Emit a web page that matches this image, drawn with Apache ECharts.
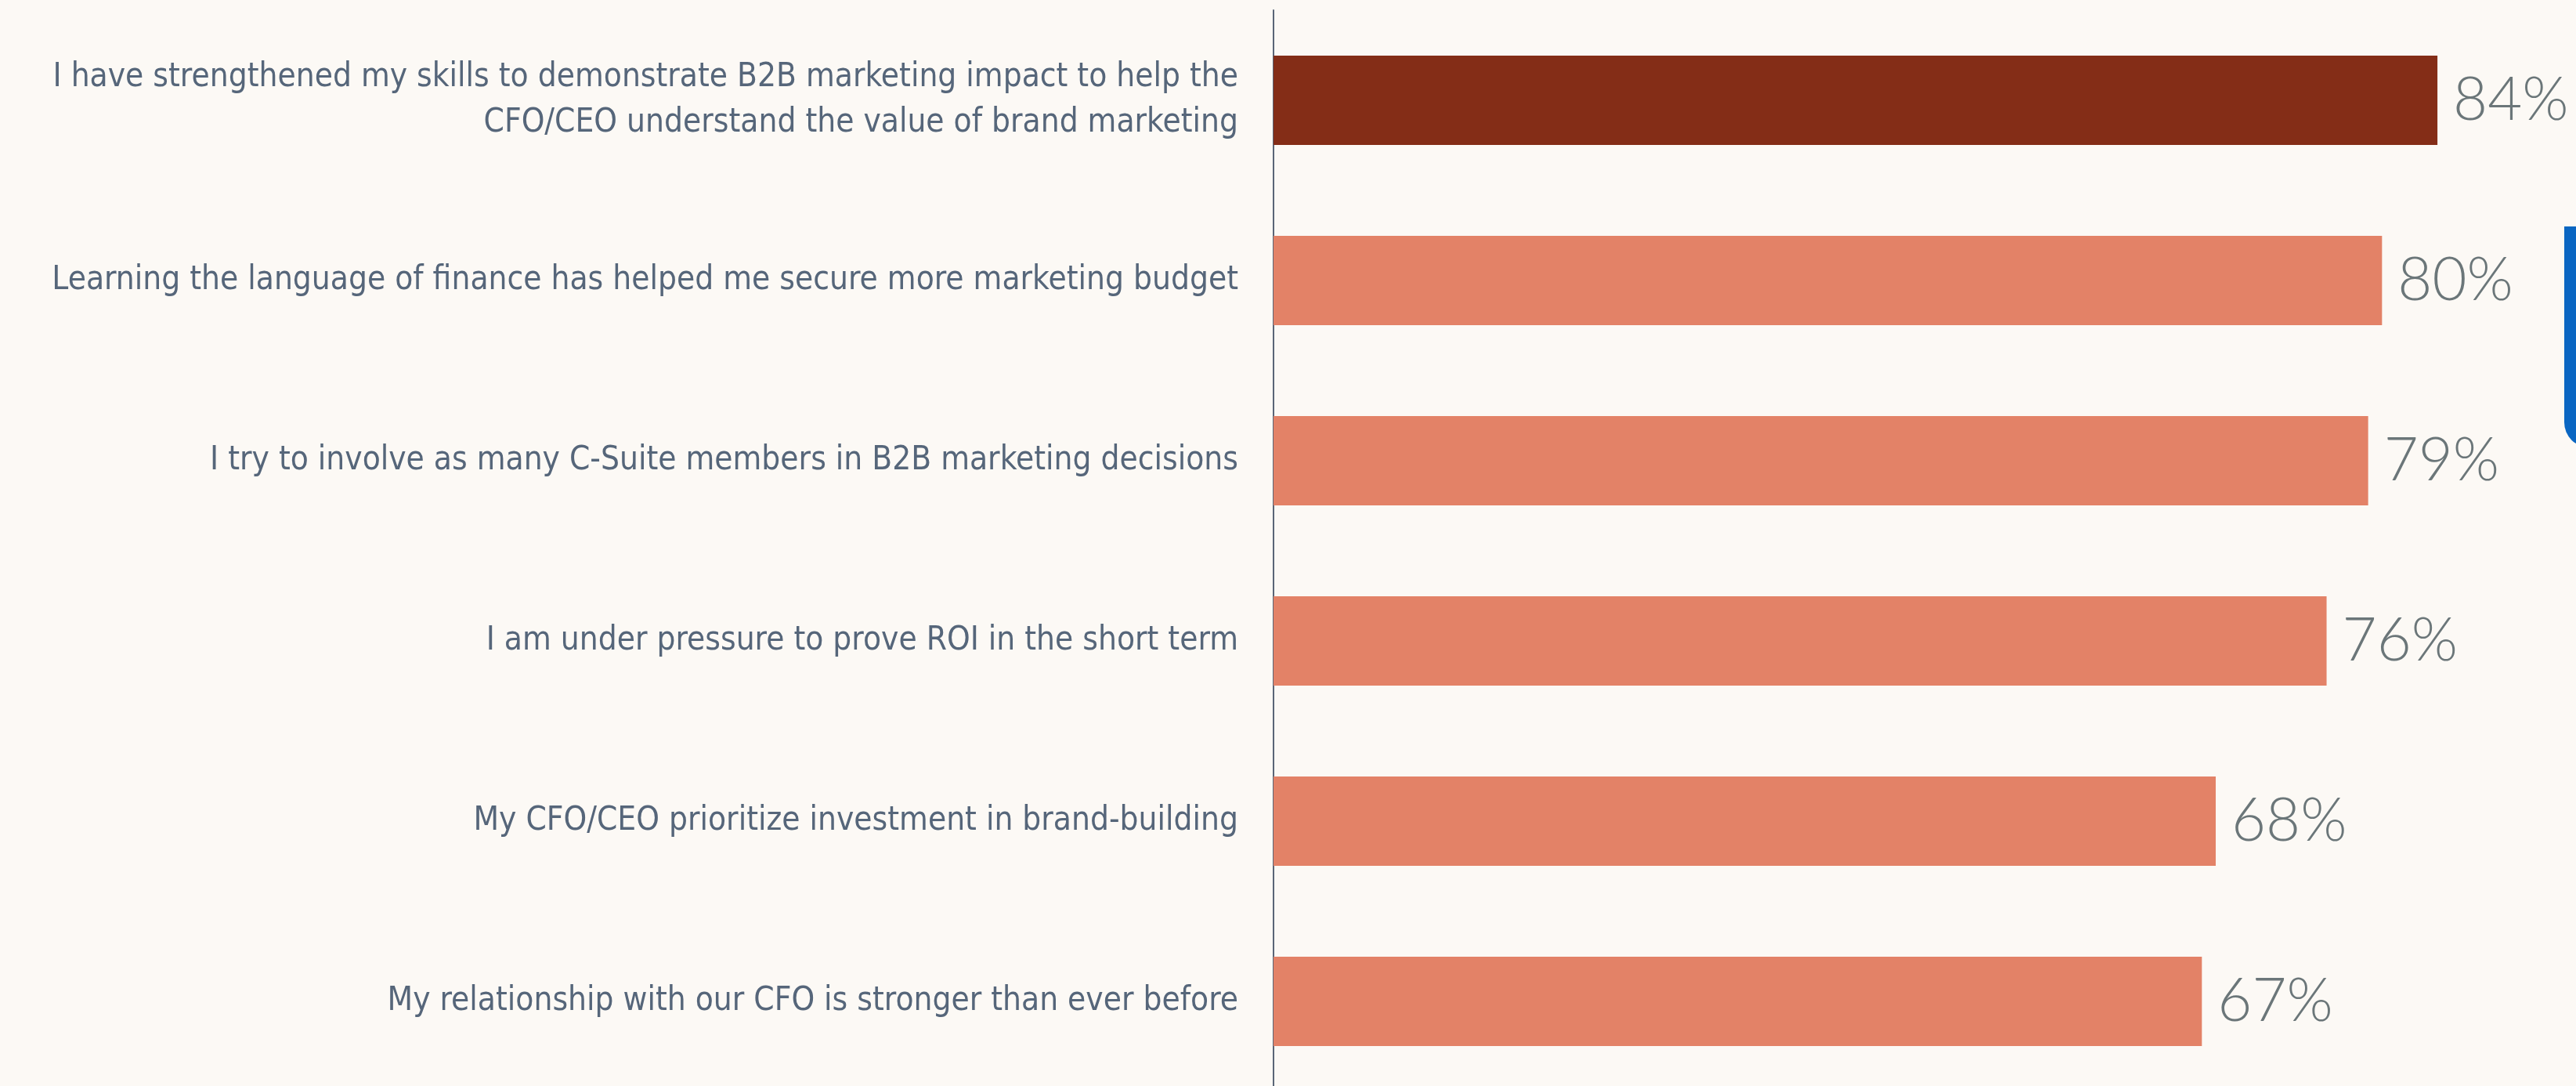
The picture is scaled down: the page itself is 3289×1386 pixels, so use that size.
<!DOCTYPE html>
<html>
<head>
<meta charset="utf-8">
<script src="https://cdn.jsdelivr.net/npm/echarts@6/dist/echarts.min.js"></script>
<style>
  html, body { margin: 0; padding: 0; background: #fcf9f5; }
  #chart { width: 3289px; height: 1386px; }
</style>
</head>
<body>
<div id="chart"></div>
<script>
// survey statements, top to bottom
const categories = [
  "I have strengthened my skills to demonstrate B2B marketing impact to help the\nCFO/CEO understand the value of brand marketing",
  "Learning the language of finance has helped me secure more marketing budget",
  "I try to involve as many C-Suite members in B2B marketing decisions",
  "I am under pressure to prove ROI in the short term",
  "My CFO/CEO prioritize investment in brand-building",
  "My relationship with our CFO is stronger than ever before"
];
// share of respondents agreeing (%)
const values = [84, 80, 79, 76, 68, 67];
const highlightIndex = 0;

const chart = echarts.init(document.getElementById("chart"));

chart.setOption({
  backgroundColor: "#fcf9f5",
  animation: false,
  grid: {
    left: 1626,
    right: 0,
    top: 13,
    bottom: -7,
    containLabel: false,
    outerBoundsMode: "none"
  },
  xAxis: {
    type: "value",
    min: 0,
    max: 94,
    show: false
  },
  yAxis: {
    type: "category",
    data: categories,
    inverse: true,
    axisTick: { show: false },
    axisLine: {
      show: true,
      lineStyle: { color: "#5a6677", width: 2 }
    },
    axisLabel: {
      margin: 45,
      fontFamily: "'DejaVu Sans Condensed', 'Liberation Sans Narrow', sans-serif",
      fontSize: 42,
      lineHeight: 58,
      color: "#56667a",
      align: "right"
    }
  },
  series: [
    {
      type: "bar",
      barWidth: 114,
      data: values.map((v, i) => ({
        value: v,
        itemStyle: { color: i === highlightIndex ? "#842d17" : "#e38267" }
      })),
      label: {
        show: true,
        position: "right",
        distance: 20,
        formatter: "{c}%",
        fontFamily: "Lato, 'Open Sans', sans-serif",
        fontWeight: 300,
        fontSize: 76,
        color: "#6b7679"
      }
    }
  ],
  // cropped decoration at the right edge
  graphic: [
    {
      type: "rect",
      shape: { x: 3274, y: 289, width: 60, height: 282, r: [0, 0, 0, 32] },
      style: { fill: "#0a66c2" }
    }
  ]
});
</script>
</body>
</html>
